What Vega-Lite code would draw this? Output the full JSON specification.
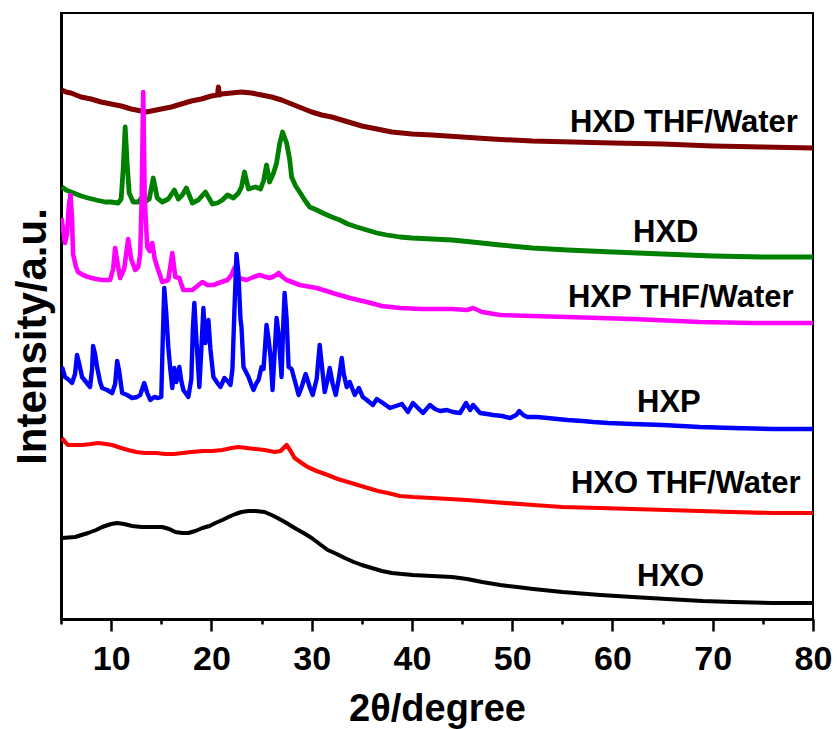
{
"$schema": "https://vega.github.io/schema/vega-lite/v6.json",
"width": 752, "height": 606,
"autosize": "none",
"padding": {"left": 61, "top": 13, "right": 24, "bottom": 110},
"background": "white",
"config": {"font": "Liberation Sans", "view": {"stroke": "black", "strokeWidth": 2}, "axis": {"grid": false}},
"datasets": {
"curves": [
{"s":"HXD THF/Water","x":5.1,"y":529},{"s":"HXD THF/Water","x":5.5,"y":527},{"s":"HXD THF/Water","x":6,"y":526},{"s":"HXD THF/Water","x":6.5,"y":524},{"s":"HXD THF/Water","x":7,"y":522},{"s":"HXD THF/Water","x":7.5,"y":521},{"s":"HXD THF/Water","x":8,"y":520},{"s":"HXD THF/Water","x":9,"y":517},{"s":"HXD THF/Water","x":10,"y":515},{"s":"HXD THF/Water","x":11,"y":513},{"s":"HXD THF/Water","x":12,"y":510},{"s":"HXD THF/Water","x":12.5,"y":509},{"s":"HXD THF/Water","x":13,"y":508},{"s":"HXD THF/Water","x":13.5,"y":507},{"s":"HXD THF/Water","x":14,"y":508},{"s":"HXD THF/Water","x":14.5,"y":509},{"s":"HXD THF/Water","x":15,"y":510},{"s":"HXD THF/Water","x":16,"y":512},{"s":"HXD THF/Water","x":17,"y":515},{"s":"HXD THF/Water","x":18,"y":518},{"s":"HXD THF/Water","x":19,"y":520},{"s":"HXD THF/Water","x":20,"y":523},{"s":"HXD THF/Water","x":20.6,"y":524},{"s":"HXD THF/Water","x":20.7,"y":532},{"s":"HXD THF/Water","x":20.8,"y":524},{"s":"HXD THF/Water","x":21,"y":525},{"s":"HXD THF/Water","x":22,"y":526},{"s":"HXD THF/Water","x":23,"y":527},{"s":"HXD THF/Water","x":24,"y":526},{"s":"HXD THF/Water","x":25,"y":524},{"s":"HXD THF/Water","x":26,"y":522},{"s":"HXD THF/Water","x":27,"y":519},{"s":"HXD THF/Water","x":28,"y":515},{"s":"HXD THF/Water","x":29,"y":511},{"s":"HXD THF/Water","x":30,"y":507},{"s":"HXD THF/Water","x":31,"y":504},{"s":"HXD THF/Water","x":32,"y":502},{"s":"HXD THF/Water","x":33,"y":499},{"s":"HXD THF/Water","x":34,"y":496},{"s":"HXD THF/Water","x":35,"y":493},{"s":"HXD THF/Water","x":36,"y":491},{"s":"HXD THF/Water","x":37,"y":489},{"s":"HXD THF/Water","x":38,"y":487},{"s":"HXD THF/Water","x":40,"y":485},{"s":"HXD THF/Water","x":42,"y":484},{"s":"HXD THF/Water","x":45,"y":482},{"s":"HXD THF/Water","x":48,"y":480},{"s":"HXD THF/Water","x":52,"y":478},{"s":"HXD THF/Water","x":56,"y":477},{"s":"HXD THF/Water","x":60,"y":476},{"s":"HXD THF/Water","x":65,"y":475},{"s":"HXD THF/Water","x":70,"y":473},{"s":"HXD THF/Water","x":75,"y":472},{"s":"HXD THF/Water","x":80,"y":471},
{"s":"HXD","x":5.1,"y":432},{"s":"HXD","x":5.5,"y":429},{"s":"HXD","x":6,"y":427},{"s":"HXD","x":6.5,"y":425},{"s":"HXD","x":7,"y":423},{"s":"HXD","x":7.7,"y":421},{"s":"HXD","x":8.5,"y":419},{"s":"HXD","x":9.4,"y":417},{"s":"HXD","x":10,"y":417},{"s":"HXD","x":10.7,"y":416},{"s":"HXD","x":11.0,"y":420},{"s":"HXD","x":11.2,"y":450},{"s":"HXD","x":11.4,"y":492},{"s":"HXD","x":11.6,"y":455},{"s":"HXD","x":11.8,"y":426},{"s":"HXD","x":12.2,"y":417},{"s":"HXD","x":12.7,"y":417},{"s":"HXD","x":13.1,"y":422},{"s":"HXD","x":13.5,"y":418},{"s":"HXD","x":13.8,"y":420},{"s":"HXD","x":14.2,"y":441},{"s":"HXD","x":14.6,"y":421},{"s":"HXD","x":15.1,"y":417},{"s":"HXD","x":15.7,"y":420},{"s":"HXD","x":16.3,"y":429},{"s":"HXD","x":16.7,"y":420},{"s":"HXD","x":17.1,"y":424},{"s":"HXD","x":17.5,"y":431},{"s":"HXD","x":18.1,"y":416},{"s":"HXD","x":18.7,"y":419},{"s":"HXD","x":19.4,"y":427},{"s":"HXD","x":20.1,"y":415},{"s":"HXD","x":20.6,"y":416},{"s":"HXD","x":21.1,"y":419},{"s":"HXD","x":21.6,"y":424},{"s":"HXD","x":22.2,"y":421},{"s":"HXD","x":22.7,"y":426},{"s":"HXD","x":23.0,"y":432},{"s":"HXD","x":23.3,"y":447},{"s":"HXD","x":23.7,"y":430},{"s":"HXD","x":24.0,"y":431},{"s":"HXD","x":24.4,"y":432},{"s":"HXD","x":24.9,"y":430},{"s":"HXD","x":25.2,"y":438},{"s":"HXD","x":25.5,"y":454},{"s":"HXD","x":25.8,"y":437},{"s":"HXD","x":26.2,"y":446},{"s":"HXD","x":26.5,"y":456},{"s":"HXD","x":26.8,"y":475},{"s":"HXD","x":27.1,"y":487},{"s":"HXD","x":27.5,"y":476},{"s":"HXD","x":27.8,"y":460},{"s":"HXD","x":28.0,"y":442},{"s":"HXD","x":28.4,"y":433},{"s":"HXD","x":28.8,"y":427},{"s":"HXD","x":29.3,"y":419},{"s":"HXD","x":29.8,"y":412},{"s":"HXD","x":30.5,"y":409},{"s":"HXD","x":31.1,"y":406},{"s":"HXD","x":32,"y":402},{"s":"HXD","x":32.8,"y":399},{"s":"HXD","x":33.6,"y":395},{"s":"HXD","x":34.5,"y":392},{"s":"HXD","x":35.5,"y":389},{"s":"HXD","x":36.5,"y":386},{"s":"HXD","x":37.5,"y":384},{"s":"HXD","x":38.8,"y":382},{"s":"HXD","x":40,"y":381},{"s":"HXD","x":42,"y":380},{"s":"HXD","x":44,"y":379},{"s":"HXD","x":46,"y":377},{"s":"HXD","x":48.8,"y":374},{"s":"HXD","x":52,"y":371},{"s":"HXD","x":55.5,"y":369},{"s":"HXD","x":60,"y":367},{"s":"HXD","x":65,"y":365},{"s":"HXD","x":70,"y":363},{"s":"HXD","x":75,"y":362},{"s":"HXD","x":80,"y":362},
{"s":"HXP THF/Water","x":5.05,"y":401},{"s":"HXP THF/Water","x":5.2,"y":390},{"s":"HXP THF/Water","x":5.4,"y":376},{"s":"HXP THF/Water","x":5.6,"y":385},{"s":"HXP THF/Water","x":5.8,"y":415},{"s":"HXP THF/Water","x":5.95,"y":424},{"s":"HXP THF/Water","x":6.1,"y":400},{"s":"HXP THF/Water","x":6.2,"y":365},{"s":"HXP THF/Water","x":6.5,"y":352},{"s":"HXP THF/Water","x":6.7,"y":347},{"s":"HXP THF/Water","x":7.2,"y":344},{"s":"HXP THF/Water","x":7.7,"y":342},{"s":"HXP THF/Water","x":8.5,"y":340},{"s":"HXP THF/Water","x":9.1,"y":339},{"s":"HXP THF/Water","x":9.9,"y":339},{"s":"HXP THF/Water","x":10.2,"y":350},{"s":"HXP THF/Water","x":10.4,"y":371},{"s":"HXP THF/Water","x":10.6,"y":358},{"s":"HXP THF/Water","x":10.9,"y":341},{"s":"HXP THF/Water","x":11.3,"y":350},{"s":"HXP THF/Water","x":11.7,"y":380},{"s":"HXP THF/Water","x":12.0,"y":360},{"s":"HXP THF/Water","x":12.4,"y":349},{"s":"HXP THF/Water","x":12.7,"y":352},{"s":"HXP THF/Water","x":12.9,"y":365},{"s":"HXP THF/Water","x":13.05,"y":420},{"s":"HXP THF/Water","x":13.2,"y":527},{"s":"HXP THF/Water","x":13.35,"y":420},{"s":"HXP THF/Water","x":13.6,"y":372},{"s":"HXP THF/Water","x":13.85,"y":368},{"s":"HXP THF/Water","x":14.1,"y":376},{"s":"HXP THF/Water","x":14.35,"y":360},{"s":"HXP THF/Water","x":14.6,"y":352},{"s":"HXP THF/Water","x":15.1,"y":337},{"s":"HXP THF/Water","x":15.7,"y":339},{"s":"HXP THF/Water","x":16.1,"y":366},{"s":"HXP THF/Water","x":16.4,"y":342},{"s":"HXP THF/Water","x":16.8,"y":341},{"s":"HXP THF/Water","x":17.2,"y":329},{"s":"HXP THF/Water","x":18.1,"y":329},{"s":"HXP THF/Water","x":19.1,"y":337},{"s":"HXP THF/Water","x":19.6,"y":334},{"s":"HXP THF/Water","x":20.2,"y":334},{"s":"HXP THF/Water","x":21.0,"y":337},{"s":"HXP THF/Water","x":21.6,"y":339},{"s":"HXP THF/Water","x":22.0,"y":344},{"s":"HXP THF/Water","x":22.3,"y":351},{"s":"HXP THF/Water","x":22.7,"y":341},{"s":"HXP THF/Water","x":23.5,"y":339},{"s":"HXP THF/Water","x":24.2,"y":342},{"s":"HXP THF/Water","x":24.8,"y":344},{"s":"HXP THF/Water","x":25.8,"y":341},{"s":"HXP THF/Water","x":26.3,"y":343},{"s":"HXP THF/Water","x":26.7,"y":346},{"s":"HXP THF/Water","x":27.1,"y":342},{"s":"HXP THF/Water","x":27.5,"y":339},{"s":"HXP THF/Water","x":28.8,"y":334},{"s":"HXP THF/Water","x":30.5,"y":331},{"s":"HXP THF/Water","x":32.1,"y":326},{"s":"HXP THF/Water","x":33.8,"y":321},{"s":"HXP THF/Water","x":35.5,"y":317},{"s":"HXP THF/Water","x":37,"y":313},{"s":"HXP THF/Water","x":38.8,"y":311},{"s":"HXP THF/Water","x":41,"y":310},{"s":"HXP THF/Water","x":44,"y":310},{"s":"HXP THF/Water","x":45.5,"y":309},{"s":"HXP THF/Water","x":46.1,"y":311},{"s":"HXP THF/Water","x":47,"y":307},{"s":"HXP THF/Water","x":48.8,"y":304},{"s":"HXP THF/Water","x":52,"y":303},{"s":"HXP THF/Water","x":55.5,"y":302},{"s":"HXP THF/Water","x":62,"y":300},{"s":"HXP THF/Water","x":68.7,"y":297},{"s":"HXP THF/Water","x":74,"y":296},{"s":"HXP THF/Water","x":80,"y":296},
{"s":"HXP","x":5.1,"y":252},{"s":"HXP","x":5.4,"y":242},{"s":"HXP","x":5.8,"y":239},{"s":"HXP","x":6.1,"y":236},{"s":"HXP","x":6.4,"y":245},{"s":"HXP","x":6.6,"y":264},{"s":"HXP","x":6.8,"y":256},{"s":"HXP","x":7.1,"y":242},{"s":"HXP","x":7.5,"y":237},{"s":"HXP","x":7.9,"y":232},{"s":"HXP","x":8.1,"y":250},{"s":"HXP","x":8.2,"y":273},{"s":"HXP","x":8.4,"y":265},{"s":"HXP","x":8.6,"y":252},{"s":"HXP","x":8.9,"y":237},{"s":"HXP","x":9.1,"y":231},{"s":"HXP","x":9.6,"y":229},{"s":"HXP","x":10.1,"y":226},{"s":"HXP","x":10.4,"y":235},{"s":"HXP","x":10.6,"y":258},{"s":"HXP","x":10.8,"y":248},{"s":"HXP","x":11.1,"y":226},{"s":"HXP","x":11.6,"y":224},{"s":"HXP","x":12.1,"y":221},{"s":"HXP","x":12.6,"y":222},{"s":"HXP","x":12.9,"y":224},{"s":"HXP","x":13.3,"y":236},{"s":"HXP","x":13.6,"y":226},{"s":"HXP","x":13.9,"y":219},{"s":"HXP","x":14.3,"y":222},{"s":"HXP","x":14.7,"y":221},{"s":"HXP","x":15.0,"y":222},{"s":"HXP","x":15.15,"y":280},{"s":"HXP","x":15.3,"y":331},{"s":"HXP","x":15.5,"y":305},{"s":"HXP","x":15.7,"y":272},{"s":"HXP","x":15.9,"y":250},{"s":"HXP","x":16.1,"y":231},{"s":"HXP","x":16.3,"y":251},{"s":"HXP","x":16.5,"y":237},{"s":"HXP","x":16.8,"y":252},{"s":"HXP","x":17.0,"y":238},{"s":"HXP","x":17.2,"y":229},{"s":"HXP","x":17.7,"y":222},{"s":"HXP","x":18.0,"y":240},{"s":"HXP","x":18.15,"y":290},{"s":"HXP","x":18.3,"y":316},{"s":"HXP","x":18.5,"y":280},{"s":"HXP","x":18.8,"y":232},{"s":"HXP","x":19.0,"y":270},{"s":"HXP","x":19.2,"y":311},{"s":"HXP","x":19.4,"y":276},{"s":"HXP","x":19.7,"y":299},{"s":"HXP","x":19.9,"y":270},{"s":"HXP","x":20.2,"y":242},{"s":"HXP","x":20.6,"y":236},{"s":"HXP","x":20.9,"y":232},{"s":"HXP","x":21.3,"y":241},{"s":"HXP","x":21.6,"y":238},{"s":"HXP","x":21.9,"y":234},{"s":"HXP","x":22.1,"y":250},{"s":"HXP","x":22.3,"y":310},{"s":"HXP","x":22.5,"y":365},{"s":"HXP","x":22.7,"y":345},{"s":"HXP","x":22.9,"y":300},{"s":"HXP","x":23.0,"y":292},{"s":"HXP","x":23.2,"y":252},{"s":"HXP","x":23.4,"y":248},{"s":"HXP","x":23.7,"y":242},{"s":"HXP","x":24.0,"y":234},{"s":"HXP","x":24.2,"y":229},{"s":"HXP","x":24.5,"y":236},{"s":"HXP","x":24.7,"y":239},{"s":"HXP","x":25.0,"y":252},{"s":"HXP","x":25.2,"y":250},{"s":"HXP","x":25.5,"y":294},{"s":"HXP","x":25.7,"y":280},{"s":"HXP","x":25.9,"y":262},{"s":"HXP","x":26.1,"y":229},{"s":"HXP","x":26.3,"y":265},{"s":"HXP","x":26.5,"y":301},{"s":"HXP","x":26.7,"y":285},{"s":"HXP","x":27.0,"y":242},{"s":"HXP","x":27.15,"y":290},{"s":"HXP","x":27.3,"y":326},{"s":"HXP","x":27.5,"y":300},{"s":"HXP","x":27.7,"y":252},{"s":"HXP","x":28.0,"y":250},{"s":"HXP","x":28.3,"y":239},{"s":"HXP","x":28.7,"y":224},{"s":"HXP","x":29.0,"y":232},{"s":"HXP","x":29.4,"y":245},{"s":"HXP","x":29.8,"y":232},{"s":"HXP","x":30.1,"y":224},{"s":"HXP","x":30.5,"y":240},{"s":"HXP","x":30.8,"y":274},{"s":"HXP","x":31.0,"y":255},{"s":"HXP","x":31.3,"y":227},{"s":"HXP","x":31.6,"y":240},{"s":"HXP","x":31.8,"y":251},{"s":"HXP","x":32.1,"y":235},{"s":"HXP","x":32.4,"y":224},{"s":"HXP","x":32.7,"y":240},{"s":"HXP","x":33.0,"y":261},{"s":"HXP","x":33.2,"y":245},{"s":"HXP","x":33.5,"y":232},{"s":"HXP","x":33.8,"y":237},{"s":"HXP","x":34.3,"y":224},{"s":"HXP","x":34.7,"y":231},{"s":"HXP","x":35.1,"y":222},{"s":"HXP","x":35.5,"y":219},{"s":"HXP","x":36.1,"y":214},{"s":"HXP","x":36.5,"y":220},{"s":"HXP","x":37.1,"y":216},{"s":"HXP","x":37.8,"y":211},{"s":"HXP","x":38.4,"y":213},{"s":"HXP","x":39.0,"y":215},{"s":"HXP","x":39.6,"y":207},{"s":"HXP","x":40.1,"y":216},{"s":"HXP","x":40.6,"y":211},{"s":"HXP","x":41.1,"y":206},{"s":"HXP","x":41.8,"y":214},{"s":"HXP","x":42.3,"y":210},{"s":"HXP","x":42.8,"y":208},{"s":"HXP","x":43.5,"y":209},{"s":"HXP","x":44.1,"y":207},{"s":"HXP","x":44.8,"y":206},{"s":"HXP","x":45.4,"y":216},{"s":"HXP","x":45.8,"y":209},{"s":"HXP","x":46.1,"y":214},{"s":"HXP","x":46.8,"y":206},{"s":"HXP","x":47.5,"y":205},{"s":"HXP","x":48.1,"y":204},{"s":"HXP","x":49.0,"y":203},{"s":"HXP","x":49.8,"y":201},{"s":"HXP","x":50.4,"y":204},{"s":"HXP","x":50.7,"y":208},{"s":"HXP","x":51.1,"y":204},{"s":"HXP","x":51.5,"y":202},{"s":"HXP","x":52.5,"y":202},{"s":"HXP","x":53.5,"y":201},{"s":"HXP","x":54.5,"y":200},{"s":"HXP","x":55.5,"y":199},{"s":"HXP","x":57,"y":198},{"s":"HXP","x":58.1,"y":197},{"s":"HXP","x":59.6,"y":196},{"s":"HXP","x":62,"y":195},{"s":"HXP","x":65,"y":194},{"s":"HXP","x":68.7,"y":192},{"s":"HXP","x":72,"y":191},{"s":"HXP","x":76,"y":190},{"s":"HXP","x":80,"y":190},
{"s":"HXO THF/Water","x":5.1,"y":181},{"s":"HXO THF/Water","x":5.4,"y":177},{"s":"HXO THF/Water","x":5.7,"y":174},{"s":"HXO THF/Water","x":6.5,"y":174},{"s":"HXO THF/Water","x":7.1,"y":174},{"s":"HXO THF/Water","x":8,"y":175},{"s":"HXO THF/Water","x":8.7,"y":176},{"s":"HXO THF/Water","x":9.5,"y":175},{"s":"HXO THF/Water","x":10.1,"y":174},{"s":"HXO THF/Water","x":11,"y":171},{"s":"HXO THF/Water","x":11.7,"y":169},{"s":"HXO THF/Water","x":12.5,"y":167},{"s":"HXO THF/Water","x":13.4,"y":166},{"s":"HXO THF/Water","x":14.5,"y":166},{"s":"HXO THF/Water","x":15.4,"y":165},{"s":"HXO THF/Water","x":16.3,"y":165},{"s":"HXO THF/Water","x":17.1,"y":166},{"s":"HXO THF/Water","x":18,"y":167},{"s":"HXO THF/Water","x":19.1,"y":168},{"s":"HXO THF/Water","x":20.1,"y":168},{"s":"HXO THF/Water","x":21.1,"y":169},{"s":"HXO THF/Water","x":22,"y":171},{"s":"HXO THF/Water","x":22.7,"y":172},{"s":"HXO THF/Water","x":23.5,"y":171},{"s":"HXO THF/Water","x":24.4,"y":170},{"s":"HXO THF/Water","x":25.3,"y":169},{"s":"HXO THF/Water","x":26.3,"y":167},{"s":"HXO THF/Water","x":26.9,"y":168},{"s":"HXO THF/Water","x":27.5,"y":174},{"s":"HXO THF/Water","x":27.9,"y":168},{"s":"HXO THF/Water","x":28.3,"y":161},{"s":"HXO THF/Water","x":29,"y":156},{"s":"HXO THF/Water","x":29.6,"y":152},{"s":"HXO THF/Water","x":30.5,"y":148},{"s":"HXO THF/Water","x":31.6,"y":144},{"s":"HXO THF/Water","x":32.6,"y":140},{"s":"HXO THF/Water","x":33.6,"y":137},{"s":"HXO THF/Water","x":34.6,"y":134},{"s":"HXO THF/Water","x":35.6,"y":131},{"s":"HXO THF/Water","x":36.6,"y":128},{"s":"HXO THF/Water","x":37.6,"y":126},{"s":"HXO THF/Water","x":38.8,"y":123},{"s":"HXO THF/Water","x":40.1,"y":122},{"s":"HXO THF/Water","x":42,"y":121},{"s":"HXO THF/Water","x":45.5,"y":119},{"s":"HXO THF/Water","x":48,"y":117},{"s":"HXO THF/Water","x":52.1,"y":114},{"s":"HXO THF/Water","x":55,"y":112},{"s":"HXO THF/Water","x":58.8,"y":111},{"s":"HXO THF/Water","x":62,"y":110},{"s":"HXO THF/Water","x":65.4,"y":109},{"s":"HXO THF/Water","x":72,"y":107},{"s":"HXO THF/Water","x":76,"y":106},{"s":"HXO THF/Water","x":80,"y":106},
{"s":"HXO","x":5.1,"y":81},{"s":"HXO","x":6.4,"y":82},{"s":"HXO","x":7.7,"y":86},{"s":"HXO","x":8.5,"y":89},{"s":"HXO","x":9.1,"y":92},{"s":"HXO","x":10,"y":95},{"s":"HXO","x":10.6,"y":96},{"s":"HXO","x":11.3,"y":95},{"s":"HXO","x":12.1,"y":93},{"s":"HXO","x":13,"y":92},{"s":"HXO","x":13.7,"y":92},{"s":"HXO","x":14.5,"y":92},{"s":"HXO","x":15.1,"y":92},{"s":"HXO","x":15.8,"y":90},{"s":"HXO","x":16.4,"y":87},{"s":"HXO","x":17.1,"y":86},{"s":"HXO","x":17.7,"y":86},{"s":"HXO","x":18.4,"y":88},{"s":"HXO","x":19.1,"y":91},{"s":"HXO","x":19.8,"y":93},{"s":"HXO","x":20.4,"y":96},{"s":"HXO","x":21.1,"y":99},{"s":"HXO","x":21.7,"y":102},{"s":"HXO","x":22.4,"y":105},{"s":"HXO","x":23.0,"y":107},{"s":"HXO","x":23.7,"y":108},{"s":"HXO","x":24.4,"y":108},{"s":"HXO","x":25.3,"y":107},{"s":"HXO","x":26,"y":104},{"s":"HXO","x":26.6,"y":101},{"s":"HXO","x":27.5,"y":96},{"s":"HXO","x":28.3,"y":91},{"s":"HXO","x":29.2,"y":86},{"s":"HXO","x":30.0,"y":81},{"s":"HXO","x":30.8,"y":75},{"s":"HXO","x":31.6,"y":69},{"s":"HXO","x":32.5,"y":65},{"s":"HXO","x":33.3,"y":61},{"s":"HXO","x":34.2,"y":57},{"s":"HXO","x":35.0,"y":54},{"s":"HXO","x":36,"y":51},{"s":"HXO","x":37.0,"y":48},{"s":"HXO","x":38,"y":46},{"s":"HXO","x":39.0,"y":45},{"s":"HXO","x":40.1,"y":44},{"s":"HXO","x":42,"y":43},{"s":"HXO","x":44,"y":42},{"s":"HXO","x":45.5,"y":40},{"s":"HXO","x":47,"y":37},{"s":"HXO","x":48.8,"y":34},{"s":"HXO","x":50.5,"y":32},{"s":"HXO","x":52.1,"y":30},{"s":"HXO","x":55,"y":27},{"s":"HXO","x":58.8,"y":24},{"s":"HXO","x":62,"y":22},{"s":"HXO","x":65.4,"y":20},{"s":"HXO","x":69,"y":18},{"s":"HXO","x":72,"y":17},{"s":"HXO","x":76,"y":16},{"s":"HXO","x":80,"y":16}
],
"labels": [
{"label":"HXD THF/Water","x":55.76,"y":487},
{"label":"HXD","x":62.05,"y":377},
{"label":"HXP THF/Water","x":55.56,"y":312},
{"label":"HXP","x":62.45,"y":207},
{"label":"HXO THF/Water","x":55.86,"y":126},
{"label":"HXO","x":62.45,"y":33}
]
},
"layer": [
{
"data": {"name": "curves"},
"mark": {"type": "line", "clip": true, "strokeJoin": "round"},
"encoding": {
"x": {"field": "x", "type": "quantitative", "scale": {"domain": [5, 80], "nice": false, "zero": false},
"axis": {"values": [10,20,30,40,50,60,70,80], "tickSize": 12, "tickWidth": 2.5, "tickColor": "black", "domainColor": "black", "domainWidth": 3, "labelFont": "Liberation Sans", "labelFontWeight": "bold", "labelFontSize": 34, "labelColor": "black", "labelPadding": 11, "labelFlush": false, "title": "2θ/degree", "titleFont": "Liberation Sans", "titleFontWeight": "bold", "titleFontSize": 38, "titleColor": "black", "titleBaseline": "alphabetic", "titleY": 101, "titleX": 376, "titleAlign": "center"}},
"y": {"field": "y", "type": "quantitative", "scale": {"domain": [0, 606], "nice": false, "zero": false},
"axis": {"ticks": false, "labels": false, "domainColor": "black", "domainWidth": 3, "title": "Intensity/a.u.", "titleFont": "Liberation Sans", "titleFontWeight": "bold", "titleFontSize": 42, "titleColor": "black", "titleAngle": 270, "titleBaseline": "alphabetic", "titleAlign": "center", "titleX": -16, "titleY": 323}},
"color": {"field": "s", "type": "nominal", "legend": null,
"scale": {"domain": ["HXD THF/Water","HXD","HXP THF/Water","HXP","HXO THF/Water","HXO"], "range": ["#800000","#008000","#FF00FF","#0000FF","#FF0000","#000000"]}},
"strokeWidth": {"field": "s", "type": "nominal", "legend": null,
"scale": {"domain": ["HXD THF/Water","HXD","HXP THF/Water","HXP","HXO THF/Water","HXO"], "range": [5,4,4,2.8,4,4]}}
}
},
{
"data": {"name": "labels"},
"mark": {"type": "text", "align": "left", "baseline": "alphabetic", "font": "Liberation Sans", "fontWeight": "bold", "fontSize": 31, "color": "black"},
"encoding": {
"x": {"field": "x", "type": "quantitative", "scale": {"domain": [5, 80], "nice": false, "zero": false},
"axis": {"orient": "bottom", "values": [5,15,25,35,45,55,65,75], "tickSize": 5, "tickWidth": 2.5, "tickColor": "black", "domain": false, "labels": false, "title": null}},
"y": {"field": "y", "type": "quantitative"},
"text": {"field": "label"}
}
}
],
"resolve": {"axis": {"x": "independent"}}
}
